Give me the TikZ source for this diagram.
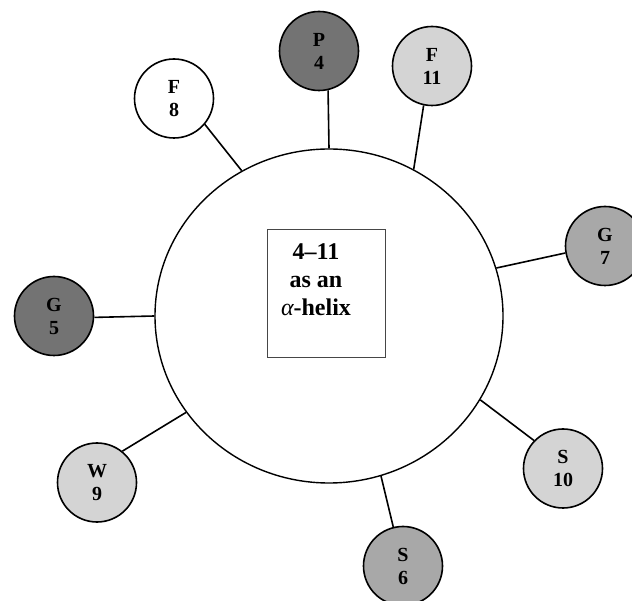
\documentclass[tikz,border=0pt]{standalone}
\usepackage{fontspec}
\setmainfont{Liberation Serif}
\usetikzlibrary{shapes.geometric}
\definecolor{resdark}{RGB}{115,115,115}
\definecolor{resmid}{RGB}{168,168,168}
\definecolor{reslight}{RGB}{212,212,212}
\definecolor{boxline}{RGB}{70,70,70}
\tikzset{
  residue/.style={circle, draw=black, line width=1.6pt, minimum size=79pt, inner sep=0pt,
    align=center, font=\fontsize{20}{23}\selectfont\bfseries},
  helixwheel/.style={ellipse, draw=black, line width=1.4pt, minimum width=348pt,
    minimum height=334pt, inner sep=0pt},
  spoke/.style={line width=1.6pt, draw=black},
  labelbox/.style={draw=boxline, line width=0.9pt},
  boxtext/.style={align=center, font=\fontsize{24}{28}\selectfont\bfseries, inner sep=0pt}
}
\begin{document}
\begin{tikzpicture}[x=1pt,y=1pt]
\useasboundingbox (0,0) rectangle (632,600);
\clip (0,0) rectangle (632,600);
\node[helixwheel] (big) at (329,284) {};
\node[labelbox, minimum width=118pt, minimum height=128pt, inner sep=0pt] (box) at (326,307) {};
\node[boxtext] (boxlbl) at (316,320) {4--11\\as an\\{\mdseries\itshape α}-helix};
\node[residue, fill=resdark] (p4) at (319,549) {P\\4};
\node[residue, fill=reslight] (f11) at (432,534) {F\\11};
\node[residue, fill=white] (f8) at (174,501.5) {F\\8};
\node[residue, fill=resmid] (g7) at (605,354) {G\\7};
\node[residue, fill=resdark] (g5) at (54,284) {G\\5};
\node[residue, fill=reslight] (w9) at (97,117.5) {W\\9};
\node[residue, fill=reslight] (s10) at (563,131.5) {S\\10};
\node[residue, fill=resmid] (s6) at (403,34) {S\\6};
\draw[spoke] (p4.-77) -- (big.90.3);
\draw[spoke] (f11.-102) -- (big.60.9);
\draw[spoke] (f8.-40.5) -- (big.121.4);
\draw[spoke] (g7.190) -- (big.16.8);
\draw[spoke] (g5.-2) -- (big.180.6);
\draw[spoke] (w9.51) -- (big.214.3);
\draw[spoke] (s10.136.6) -- (big.-29.2);
\draw[spoke] (s6.104.4) -- (big.-72.6);
\end{tikzpicture}
\end{document}
